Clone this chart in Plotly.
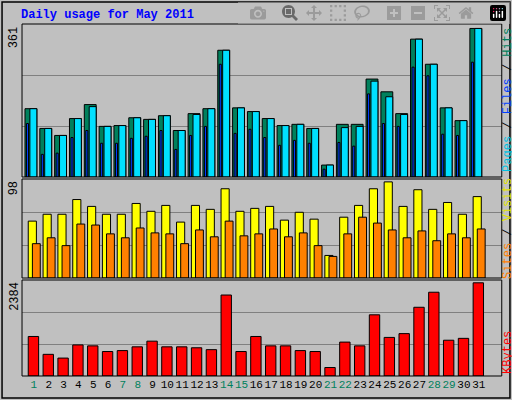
import plotly.graph_objects as go

days = list(range(1, 32))
weekend = [1, 7, 8, 14, 15, 21, 22, 28, 29]

hits = [166, 118, 101, 142, 176, 123, 125, 144, 140, 149, 113, 154, 166, 308, 168,
        159, 142, 125, 128, 118, 29, 128, 128, 238, 207, 154, 335, 274, 168, 137, 361]
files = [166, 118, 101, 142, 171, 123, 125, 144, 140, 149, 113, 152, 166, 308, 168,
         159, 142, 125, 128, 118, 29, 120, 123, 233, 195, 152, 335, 274, 168, 137, 361]
pages = [130, 55, 58, 96, 113, 82, 82, 94, 99, 113, 67, 101, 123, 274, 106,
         116, 96, 77, 89, 82, 19, 84, 75, 202, 130, 123, 267, 246, 104, 101, 279]
visits = [58, 65, 65, 80, 73, 65, 65, 76, 68, 74, 57, 74, 70, 91, 68,
          71, 73, 59, 67, 60, 23, 62, 74, 91, 98, 73, 90, 70, 77, 65, 83]
sites = [35, 41, 33, 55, 54, 45, 41, 51, 46, 45, 35, 49, 42, 58, 43,
         45, 50, 42, 46, 33, 22, 45, 62, 56, 49, 41, 48, 38, 45, 41, 50]
kbytes = [1011, 554, 458, 795, 771, 626, 650, 746, 891, 746, 746, 722, 674, 2071, 626,
          1011, 771, 771, 650, 626, 217, 867, 771, 1565, 987, 1084, 1758, 2143, 915, 963, 2384]

GREEN = "#00805c"
mono = "Liberation Mono"
edge = dict(color="black", width=1)

fig = go.Figure()

# panel 1: hits / files / pages
fig.add_trace(go.Bar(x=days, y=hits, offset=-0.6, width=0.8, marker=dict(color="#00805c", line=edge),
                     xaxis="x", yaxis="y"))
fig.add_trace(go.Bar(x=days, y=files, offset=-0.27, width=0.47, marker=dict(color="#00e0ff", line=edge),
                     xaxis="x", yaxis="y"))
fig.add_trace(go.Bar(x=days, y=pages, offset=-0.5, width=0.14, marker=dict(color="#0040ff", line=edge),
                     xaxis="x", yaxis="y"))
# panel 2: visits / sites
fig.add_trace(go.Bar(x=days, y=visits, offset=-0.38, width=0.55, marker=dict(color="#ffff00", line=edge),
                     xaxis="x2", yaxis="y2"))
fig.add_trace(go.Bar(x=days, y=sites, offset=-0.1, width=0.53, marker=dict(color="#ff8000", line=edge),
                     xaxis="x2", yaxis="y2"))
# panel 3: kbytes
fig.add_trace(go.Bar(x=days, y=kbytes, offset=-0.38, width=0.7, marker=dict(color="#ff0000", line=edge),
                     xaxis="x3", yaxis="y3"))

ticktext = [f"<span style='color:{GREEN}'>{d}</span>" if d in weekend else str(d) for d in days]
xcommon = dict(range=[0.2, 32.55], domain=[0.043, 0.98], showgrid=False, zeroline=False,
               fixedrange=True)


def ycfg(top, dom):
    return dict(range=[0, top * 1.03], domain=dom, tickvals=[top * 1.03 / 3, top * 2.06 / 3],
                showticklabels=False, gridcolor="#808080", gridwidth=1, zeroline=False)


fig.update_layout(
    width=512, height=400, margin=dict(l=0, r=0, t=0, b=0),
    paper_bgcolor="#c0c0c0", plot_bgcolor="#c0c0c0",
    barmode="overlay", showlegend=False,
    font=dict(family=mono, size=11, color="black"),
    xaxis=dict(xcommon, showticklabels=False, anchor="y"),
    xaxis2=dict(xcommon, showticklabels=False, anchor="y2"),
    xaxis3=dict(xcommon, tickvals=days, ticktext=ticktext, anchor="y3", ticks="",
                tickangle=0, tickfont=dict(size=11)),
    yaxis=ycfg(361, [0.5575, 0.94]),
    yaxis2=ycfg(98, [0.305, 0.5525]),
    yaxis3=ycfg(2384, [0.06, 0.30]),
)

# frames
frames = [(0.5575, 0.94), (0.305, 0.5525), (0.06, 0.30)]
for y0, y1 in frames:
    fig.add_shape(type="rect", xref="paper", yref="paper", x0=0.043, x1=0.98, y0=y0, y1=y1,
                  line=dict(color="black", width=1))
fig.add_shape(type="rect", xref="paper", yref="paper", x0=0.004, x1=0.996, y0=0.005, y1=0.995,
              line=dict(color="black", width=1.5))

fig.add_annotation(text="<b>Daily usage for May 2011</b>", xref="paper", yref="paper", x=0.037, y=0.985,
                   xanchor="left", yanchor="top", showarrow=False, font=dict(color="#0000ff", size=12))

tops = [("361", 0.94), ("98", 0.5525), ("2384", 0.30)]
for txt, y in tops:
    fig.add_annotation(text=txt, xref="paper", yref="paper", x=0.028, y=y, textangle=-90,
                       xanchor="center", yanchor="top", showarrow=False, font=dict(size=12))

side = [
    ("<span style='color:#00c0e0'>Pages</span> / <span style='color:#0040ff'>Files</span> / "
     "<span style='color:#00805c'>Hits</span>", 0.75),
    ("<span style='color:#ff8000'>Sites</span> / <span style='color:#e0e000'>Visits</span>", 0.43),
    ("<span style='color:#ff0000'>KBytes</span>", 0.12),
]
for txt, y in side:
    fig.add_annotation(text=txt, xref="paper", yref="paper", x=0.992, y=y, textangle=-90,
                       xanchor="center", yanchor="middle", showarrow=False, font=dict(size=12))

fig.write_html("out.html", post_script="document.body.style.margin='0px';")
